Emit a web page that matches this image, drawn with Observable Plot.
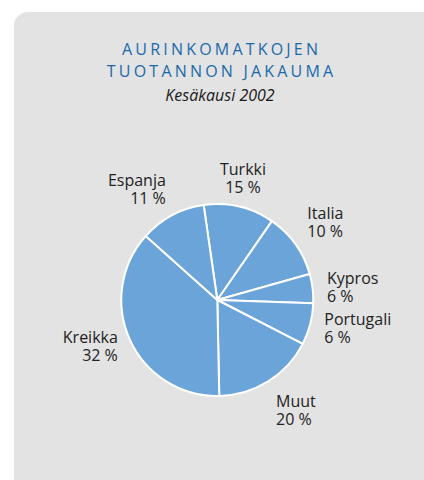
<!DOCTYPE html>
<html>
<head>
<meta charset="utf-8">
<script src="https://cdn.jsdelivr.net/npm/d3@7"></script>
<script src="https://cdn.jsdelivr.net/npm/@observablehq/plot@0.6"></script>
<style>
  html, body { margin: 0; padding: 0; background: #ffffff; overflow: hidden; }
  body { width: 424px; height: 480px; position: relative; font-family: "Open Sans", sans-serif; }
  #panel { position: absolute; left: 14px; top: 12px; width: 430px; height: 484px; border-radius: 14px; background: #e3e3e3; }
  .t { position: absolute; left: 0; width: 440px; text-align: center; white-space: nowrap; }
  .title { color: #1a6aab; font-size: 16px; letter-spacing: 3.2px; line-height: 22px; text-indent: 3.2px; }
  .sub { color: #1a1a1a; font-size: 16px; font-style: italic; line-height: 22px; }
  #chart { position: absolute; left: 0; top: 130px; }
</style>
</head>
<body>
<div id="panel"></div>
<div class="t title" style="top:38px">AURINKOMATKOJEN</div>
<div class="t title" style="top:60px">TUOTANNON JAKAUMA</div>
<div class="t sub" style="top:84px">Kesäkausi 2002</div>
<div id="chart"></div>
<script>
// ---- data ----
const regions = ["Turkki", "Italia", "Kypros", "Portugali", "Muut", "Kreikka", "Espanja"];
const percentLabels = [15, 10, 6, 6, 20, 32, 11];           // printed values
const sliceShares = [11.9, 11.0, 4.9, 7.0, 17.1, 36.9, 11.1]; // angular shares as drawn

// ---- layout constants ----
const W = 424, H = 340;
const cxPx = 217.3, cyPx = 170;
const radius = 96;
const labelRadius = 110;
const startAngle = -8.2 * Math.PI / 180;
const sliceColor = "#6ba4d8";

const rows = regions.map((name, i) => ({name, pct: percentLabels[i], share: sliceShares[i]}));
const arcs = d3.pie().sort(null).value(d => d.share)
  .startAngle(startAngle).endAngle(startAngle + 2 * Math.PI)(rows);

const labels = arcs.map(a => {
  const mid = (a.startAngle + a.endAngle) / 2;
  const s = Math.sin(mid), c = Math.cos(mid);
  return {
    text: `${a.data.name}\n${a.data.pct} %`,
    x: labelRadius * s,
    y: labelRadius * c,
    ta: Math.abs(s) < 0.3 ? "middle" : (s > 0 ? "start" : "end"),
    la: c > 0.5 ? "bottom" : (c < -0.5 ? "top" : "middle")
  };
});

const pieMark = (index, scales) => {
  const cx = scales.x(0), cy = scales.y(0);
  const r = scales.x(radius) - cx;
  const g = d3.create("svg:g").attr("transform", `translate(${cx},${cy})`);
  g.selectAll("path").data(arcs).join("path")
    .attr("d", d3.arc().innerRadius(0).outerRadius(r))
    .attr("fill", sliceColor)
    .attr("stroke", "#ffffff")
    .attr("stroke-width", 2)
    .attr("stroke-linejoin", "round");
  return g.node();
};

const combos = [];
for (const l of labels) {
  if (!combos.some(c => c.ta === l.ta && c.la === l.la)) combos.push({ta: l.ta, la: l.la});
}
const textMarks = combos.map(c => Plot.text(labels, {
  filter: d => d.ta === c.ta && d.la === c.la,
  x: "x", y: "y", text: "text",
  textAnchor: c.ta, lineAnchor: c.la,
  fontSize: 16, lineHeight: 1.125, fill: "#222222"
}));

const chart = Plot.plot({
  width: W, height: H,
  marginTop: 0, marginRight: 0, marginBottom: 0, marginLeft: 0,
  x: {domain: [-cxPx, W - cxPx], axis: null},
  y: {domain: [-(H - cyPx), cyPx], axis: null},
  style: {background: "transparent", fontFamily: "Open Sans, sans-serif", overflow: "visible"},
  marks: [pieMark, ...textMarks]
});
document.getElementById("chart").appendChild(chart);
</script>
</body>
</html>
